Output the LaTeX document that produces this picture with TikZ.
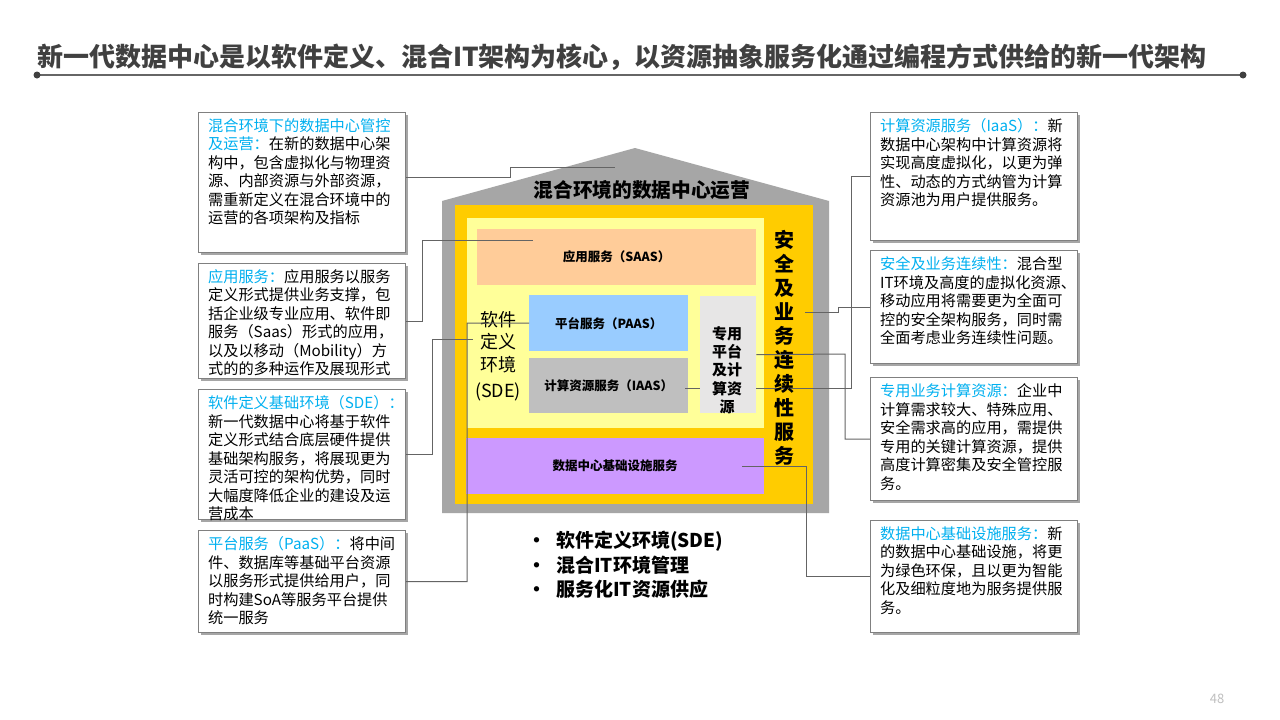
\documentclass[tikz,border=0pt]{standalone}
\usepackage{fontspec}
\setmainfont{Noto Sans CJK SC}
\usetikzlibrary{shadows}
\definecolor{ttlgray}{RGB}{64,64,64}
\definecolor{housegray}{RGB}{166,166,166}
\definecolor{hyellow}{RGB}{255,204,0}
\definecolor{lyellow}{RGB}{255,255,153}
\definecolor{csaas}{RGB}{255,204,153}
\definecolor{cpaas}{RGB}{153,204,255}
\definecolor{ciaas}{RGB}{191,191,191}
\definecolor{cdedi}{RGB}{231,230,230}
\definecolor{cinfra}{RGB}{204,153,255}
\definecolor{cblue}{RGB}{0,176,240}
\definecolor{boxgray}{RGB}{128,128,128}
\definecolor{linegray}{RGB}{100,100,100}

\newcommand{\hd}[1]{\textcolor{cblue}{#1}}
\newcommand{\boxtext}[2]{\parbox[c][#1][t]{188pt}{\raggedright #2}}

\begin{document}
\begin{tikzpicture}[x=1pt,y=-1pt,
    infobox/.style={draw=boxgray, line width=1.2pt, fill=white, anchor=north west,
      inner xsep=9.5pt, inner ysep=6pt, align=left, font=\fontsize{15.2}{18.5}\selectfont,
      drop shadow={shadow xshift=2.5pt, shadow yshift=-2.5pt, fill=black, opacity=.35}},
    tile/.style={anchor=north west, inner sep=0pt, font=\bfseries\fontsize{12.5}{15}\selectfont},
    link/.style={draw=linegray, line width=1pt}]
  \fill[white] (0,0) rectangle (1280,720);
  \useasboundingbox (0,0) rectangle (1280,720);

  % title
  \node[anchor=west, inner sep=0pt, text=ttlgray, font=\bfseries\fontsize{26}{30}\selectfont] (title) at (37,57)
    {新一代数据中心是以软件定义、混合IT架构为核心，以资源抽象服务化通过编程方式供给的新一代架构};
  \coordinate (tl) at (37,75);
  \coordinate (tr) at (1243,75);
  \draw[ttlgray!80, line width=1.6pt] (tl) -- (tr);
  \fill[ttlgray] (tl) circle (3.5pt) (tr) circle (3.5pt);

  % left boxes
  \node[infobox] (lmgmt) at (198,112) {\boxtext{128pt}{\hd{混合环境下的数据中心管控}\\\hd{及运营：}在新的数据中心架\\构中，包含虚拟化与物理资\\源、内部资源与外部资源，\\需重新定义在混合环境中的\\运营的各项架构及指标}};
  \node[infobox] (lsaas) at (198,263) {\boxtext{103pt}{\hd{应用服务：}应用服务以服务\\定义形式提供业务支撑，包\\括企业级专业应用、软件即\\服务（Saas）形式的应用，\\以及以移动（Mobility）方\\式的的多种运作及展现形式}};
  \node[infobox] (lsde) at (198,389) {\boxtext{118pt}{\hd{软件定义基础环境（SDE）：}\\新一代数据中心将基于软件\\定义形式结合底层硬件提供\\基础架构服务，将展现更为\\灵活可控的架构优势，同时\\大幅度降低企业的建设及运\\营成本}};
  \node[infobox] (lpaas) at (198,530) {\boxtext{90pt}{\hd{平台服务（PaaS）：}将中间\\件、数据库等基础平台资源\\以服务形式提供给用户，同\\时构建SoA等服务平台提供\\统一服务}};

  % right boxes
  \node[infobox] (riaas) at (870,112) {\boxtext{116pt}{\hd{计算资源服务（IaaS）：}新\\数据中心架构中计算资源将\\实现高度虚拟化，以更为弹\\性、动态的方式纳管为计算\\资源池为用户提供服务。}};
  \node[infobox] (rsec) at (870,250) {\boxtext{101pt}{\hd{安全及业务连续性：}混合型\\IT环境及高度的虚拟化资源、\\移动应用将需要更为全面可\\控的安全架构服务，同时需\\全面考虑业务连续性问题。}};
  \node[infobox] (rdedi) at (870,377) {\boxtext{111pt}{\hd{专用业务计算资源：}企业中\\计算需求较大、特殊应用、\\安全需求高的应用，需提供\\专用的关键计算资源，提供\\高度计算密集及安全管控服\\务。}};
  \node[infobox] (rinfra) at (870,520) {\boxtext{100pt}{\hd{数据中心基础设施服务：}新\\的数据中心基础设施，将更\\为绿色环保，且以更为智能\\化及细粒度地为服务提供服\\务。}};

  % house
  \fill[housegray] (442,513) -- (442,201) -- (635,148) -- (829,201) -- (829,513) -- cycle;
  \fill[hyellow] (455,205) rectangle (813,504);
  \fill[lyellow] (467,218) rectangle (764,428);
  \node[font=\bfseries\fontsize{19.7}{22}\selectfont] (roof) at (642,190) {混合环境的数据中心运营};

  \node[tile, fill=csaas, minimum width=279pt, minimum height=56pt] (saas) at (477,229) {应用服务（SAAS）};
  \node[tile, fill=cpaas, minimum width=159pt, minimum height=56pt] (paas) at (529,295) {平台服务（PAAS）};
  \node[tile, fill=ciaas, minimum width=159pt, minimum height=55pt] (iaas) at (529,358) {计算资源服务（IAAS）};
  \node[tile, fill=cinfra, minimum width=298pt, minimum height=56pt] (infra) at (466,438) {数据中心基础设施服务};

  \coordinate (tiaas) at (685,388);
  \draw[link] (riaas.west) -| (851,388) -- (tiaas);

  \node[tile, fill=cdedi, minimum width=56pt, minimum height=117pt] (dedi) at (700,296) {};
  \node[align=center, inner sep=0pt, font=\bfseries\fontsize{15}{18.3}\selectfont] (deditxt) at (727,370)
    {专用\\平台\\及计\\算资\\源};
  \node[align=center, inner sep=0pt, font=\fontsize{18}{22.5}\selectfont] (sde) at (498,356)
    {软件\\定义\\环境\\[4pt](SDE)};
  \node[align=center, inner sep=0pt, font=\bfseries\fontsize{20}{24}\selectfont] (sec) at (784,348)
    {安\\全\\及\\业\\务\\连\\续\\性\\服\\务};

  \node[anchor=west, align=left, inner sep=0pt, font=\bfseries\fontsize{19}{24.5}\selectfont] (bullets) at (527,565)
    {\makebox[29pt][l]{\textbullet}软件定义环境(SDE)\\\makebox[29pt][l]{\textbullet}混合IT环境管理\\\makebox[29pt][l]{\textbullet}服务化IT资源供应};

  % connectors
  \coordinate (troof) at (615,167);
  \coordinate (tsaas) at (533,240);
  \coordinate (tsde) at (473,339);
  \coordinate (tsec) at (805,312);
  \coordinate (tinfra) at (742,466);
  \draw[link] (lmgmt.east |- 0,177) -- (510,177) |- (troof);
  \draw[link] (lsaas.east) -| (422,240) -- (tsaas);
  \draw[link] (lsde.east) -| (432,339) -- (tsde);
  \draw[link] (lpaas.east) -| (467,323) -- (paas.west);
  \draw[link] (rsec.west) -| (838,312) -- (tsec);
  \draw[link] (rdedi.west) -| (845,354) -- (dedi.east);
  \draw[link] (rinfra.west) -| (806,466) -- (tinfra);

  \node[text=black!25, font=\fontsize{13}{15}\selectfont] (pgno) at (1217,699) {48};
\end{tikzpicture}
\end{document}
